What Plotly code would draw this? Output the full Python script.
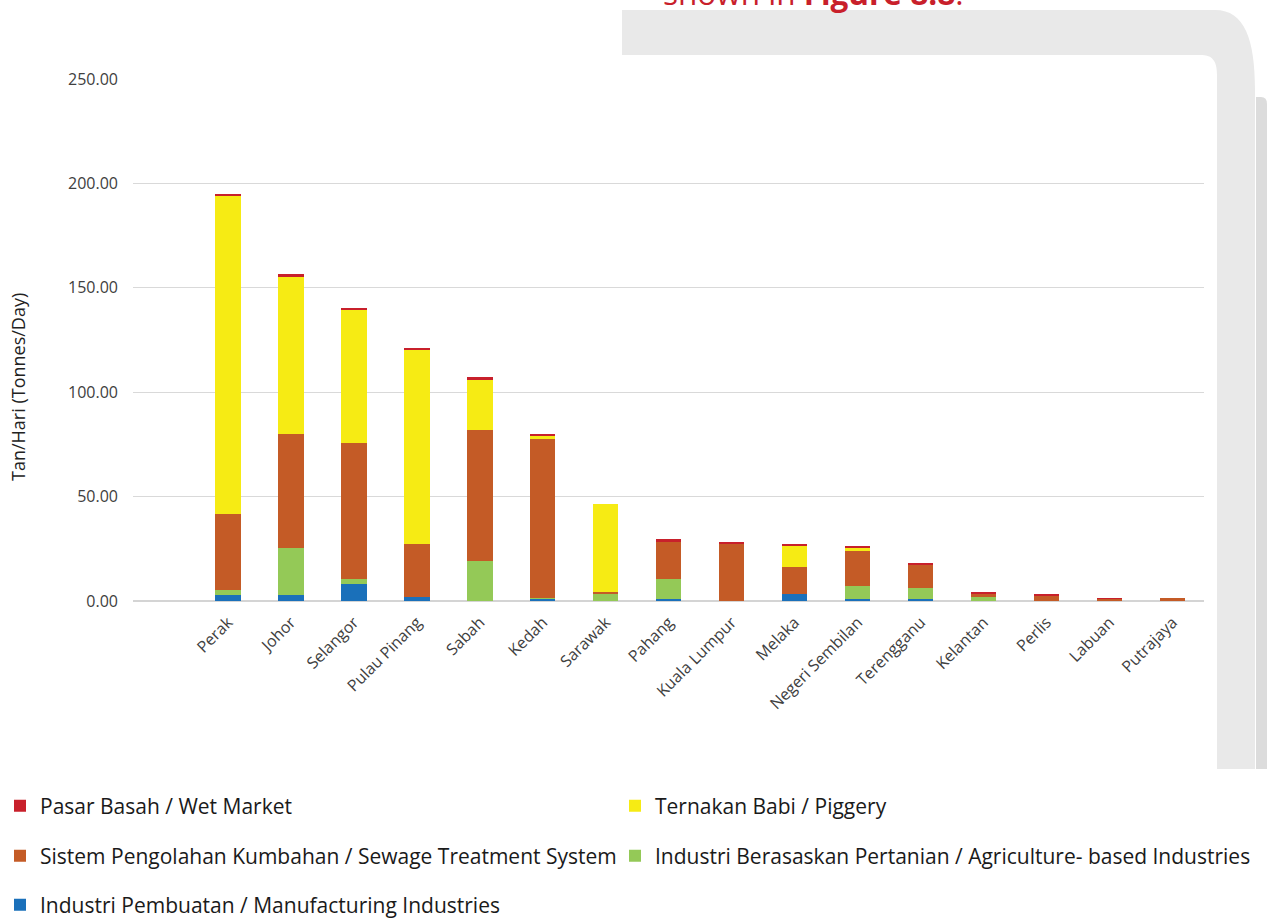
import plotly.graph_objects as go

categories = ["Perak", "Johor", "Selangor", "Pulau Pinang", "Sabah", "Kedah", "Sarawak",
              "Pahang", "Kuala Lumpur", "Melaka", "Negeri Sembilan", "Terengganu",
              "Kelantan", "Perlis", "Labuan", "Putrajaya"]

manufacturing = [3.0, 3.0, 8.3, 2.1, 0.2, 1.1, 0.2, 1.1, 0.1, 3.2, 1.0, 1.0, 0.1, 0.0, 0.0, 0.0]
agriculture = [2.3, 22.4, 2.1, 0.0, 19.1, 0.3, 3.0, 9.3, 0.0, 0.0, 6.2, 5.2, 2.0, 0.0, 0.0, 0.0]
sewage = [36.2, 54.4, 65.4, 25.3, 62.6, 76.3, 1.1, 18.2, 27.3, 13.1, 16.9, 11.2, 1.2, 2.4, 1.0, 1.3]
piggery = [152.5, 75.5, 63.6, 92.8, 24.3, 1.3, 42.3, 0.0, 0.0, 10.2, 1.3, 0.0, 0.0, 0.0, 0.0, 0.0]
wet_market = [0.8, 1.2, 1.1, 1.0, 0.9, 1.1, 0.0, 0.9, 1.0, 0.9, 0.9, 0.9, 1.1, 0.9, 0.3, 0.0]

y_ticks = [0, 50, 100, 150, 200, 250]
y_tick_labels = ["0.00", "50.00", "100.00", "150.00", "200.00", "250.00"]

W, H = 1269, 919
L, R, T, B = 133, 1204, 79, 601


def px(x):
    return (x - L) / (R - L)


def py(y):
    return (B - y) / (B - T)


# name, values, colour, legend id, legend x (px), legend row centre (px)
series = [
    ("Industri Pembuatan / Manufacturing Industries", manufacturing, "#1a70ba", "legend5", -12, 905),
    ("Industri Berasaskan Pertanian / Agriculture- based Industries", agriculture, "#94c957", "legend4", 615, 856),
    ("Sistem Pengolahan Kumbahan / Sewage Treatment System", sewage, "#c45b26", "legend3", -12, 856),
    ("Ternakan Babi / Piggery", piggery, "#f6eb14", "legend2", 615, 806),
    ("Pasar Basah / Wet Market", wet_market, "#c8202b", "legend", -12, 806),
]

fig = go.Figure()
legends = {}
for name, vals, color, leg, lx, ly in series:
    fig.add_trace(go.Bar(
        x=categories, y=vals, name=name,
        marker=dict(color=color, line=dict(width=0)),
        legend=leg, showlegend=True,
    ))
    legends[leg] = dict(
        orientation="h", xref="paper", yref="container",
        x=px(lx), y=1 - ly / H, xanchor="left", yanchor="middle",
        font=dict(family="Open Sans", size=21, color="#1a1a1a"),
        bgcolor="rgba(0,0,0,0)", borderwidth=0,
    )

# decorative page frame (background of the source page)
band = (f"M {px(622)},{py(10)} L {px(1215)},{py(10)} "
        f"C {px(1245)},{py(10)} {px(1255)},{py(40)} {px(1255)},{py(90)} "
        f"L {px(1255)},{py(769)} L {px(1217)},{py(769)} L {px(1217)},{py(75)} "
        f"C {px(1217)},{py(60)} {px(1212)},{py(55)} {px(1200)},{py(55)} "
        f"L {px(622)},{py(55)} Z")
strip = (f"M {px(1256)},{py(97)} L {px(1261)},{py(97)} "
         f"Q {px(1267)},{py(97)} {px(1267)},{py(104)} "
         f"L {px(1267)},{py(769)} L {px(1256)},{py(769)} Z")

shapes = [
    dict(type="path", xref="paper", yref="paper", path=band,
         fillcolor="#e9e9e9", line=dict(width=0), layer="below"),
    dict(type="path", xref="paper", yref="paper", path=strip,
         fillcolor="#dcdcdc", line=dict(width=0), layer="below"),
]

fig.update_layout(
    width=W, height=H,
    margin=dict(l=L, r=W - R, t=T, b=H - B),
    paper_bgcolor="white", plot_bgcolor="white",
    barmode="stack", bargap=0.6, showlegend=True,
    font=dict(family="Open Sans", color="#404040"),
    xaxis=dict(
        range=[-1.51, 15.5], tickangle=-45, showgrid=False, showline=False,
        ticks="", ticklabelstandoff=8, tickfont=dict(size=16, color="#404040"),
    ),
    yaxis=dict(
        range=[0, 250], tickvals=y_ticks, ticktext=y_tick_labels,
        gridcolor="#d9d9d9", gridwidth=1, zeroline=True, zerolinecolor="#d4d4d4",
        zerolinewidth=2, ticks="", ticklabelstandoff=14,
        tickfont=dict(size=16, color="#404040"),
    ),
    shapes=shapes,
    annotations=[
        dict(text="Tan/Hari (Tonnes/Day)", xref="paper", yref="paper",
             x=px(18), y=py(387), textangle=-90, showarrow=False,
             font=dict(size=18, color="#222222"), xanchor="center", yanchor="middle"),
        dict(text="shown in <b>Figure 8.8</b>.", xref="paper", yref="paper",
             x=px(661), y=py(16), showarrow=False, xanchor="left", yanchor="bottom",
             font=dict(size=31.5, color="#c8202b")),
    ],
    **legends,
)

fig.write_html("out.html", config={"displayModeBar": False},
               post_script="document.body.style.margin='0px';")
